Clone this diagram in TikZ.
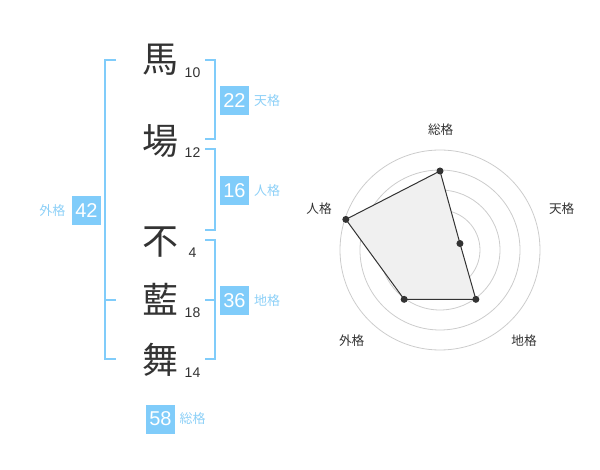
\documentclass[tikz,border=0pt]{standalone}
\usepackage{fontspec}
\setmainfont{Liberation Sans}
\newfontfamily\cjk{Noto Sans CJK JP}
\usetikzlibrary{positioning}
\definecolor{kakublue}{HTML}{80CCFA}
\definecolor{labelblue}{HTML}{8DD0F7}
\definecolor{ink}{HTML}{333333}
\begin{document}
\begin{tikzpicture}[
        x=0.75pt, y=-0.75pt, % coordinate in pixel
        kanji/.style={text=ink, font=\cjk\fontsize{27}{27}\selectfont},
        strokes/.style={text=ink, inner sep=0pt, font=\fontsize{10.5}{10.5}\selectfont},
        kakubox/.style={fill=kakublue, text=white, minimum size=21.75pt, inner sep=0pt, font=\fontsize{15}{15}\selectfont},
        kakulabel/.style={text=labelblue, inner sep=0pt, font=\cjk\fontsize{9.75}{9.75}\selectfont},
        bracket/.style={draw=kakublue, line width=1.5pt},
        ring/.style={draw=black!20, line width=0.6pt},
        axislabel/.style={text=ink, font=\cjk\fontsize{9.5}{9.5}\selectfont},
        vertex/.style={circle, fill=ink, inner sep=0pt, minimum size=5.25pt}
    ]
    \useasboundingbox (0,0) rectangle (600,470);

    % nome
    \node[kanji] (ba)   at (160,60)  {馬};
    \node[kanji] (jo)   at (160,141) {場};
    \node[kanji] (fu)   at (160,242) {不};
    \node[kanji] (ai)   at (160,299) {藍};
    \node[kanji] (mai)  at (160,360) {舞};
    \node[strokes] (baN)  at (192.5,73)  {10};
    \node[strokes] (joN)  at (192.5,153) {12};
    \node[strokes] (fuN)  at (192.5,253) {4};
    \node[strokes] (aiN)  at (192.5,313) {18};
    \node[strokes] (maiN) at (192.5,373) {14};

    % parentesi
    \draw[bracket] (116,60) -- (105,60) -- (105,359) -- (116,359);
    \draw[bracket] (105,300) -- (116,300);
    \draw[bracket] (205,60) -- (215,60) -- (215,139) -- (205,139);
    \draw[bracket] (205,149) -- (215,149) -- (215,230) -- (205,230);
    \draw[bracket] (205,240) -- (215,240) -- (215,359) -- (205,359);
    \draw[bracket] (205,300) -- (215,300);

    % punteggi
    \node[kakubox] (ten)  at (234.5,100.5) {22};
    \node[kakubox] (jin)  at (234.5,190.5) {16};
    \node[kakubox] (chi)  at (234.5,300.5) {36};
    \node[kakubox] (gai)  at (86.5,211)    {42};
    \node[kakubox] (sou)  at (160.5,419)   {58};
    \node[kakulabel, right=3.5pt of ten] (tenL) {天格};
    \node[kakulabel, right=3.5pt of jin] (jinL) {人格};
    \node[kakulabel, right=3.5pt of chi] (chiL) {地格};
    \node[kakulabel, left=4.5pt of gai]  (gaiL) {外格};
    \node[kakulabel, right=3pt of sou]   (souL) {総格};

    % radar
    \begin{scope}[shift={(440,250)}, y=0.75pt]
        \foreach \r in {20,40,60,80,100}
            \draw[ring] (0,0) circle (\r);
        \fill[black!20] (0,0) circle (2.6pt);
        \coordinate (pSou) at (90:79);
        \coordinate (pTen) at (18:21);
        \coordinate (pChi) at (-54:61);
        \coordinate (pGai) at (234:61);
        \coordinate (pJin) at (162:99);
        \draw[ink, fill=black!6, line width=0.75pt] (pSou) -- (pTen) -- (pChi) -- (pGai) -- (pJin) -- cycle;
        \foreach \p in {pSou,pTen,pChi,pGai,pJin}
            \node[vertex] (\p dot) at (\p) {};
        \node[axislabel] (lSou) at (0.7,120)   {総格};
        \node[axislabel] (lTen) at (121.7,41)  {天格};
        \node[axislabel] (lChi) at (84,-91)    {地格};
        \node[axislabel] (lGai) at (-88.3,-91) {外格};
        \node[axislabel] (lJin) at (-121,41)   {人格};
    \end{scope}
\end{tikzpicture}
\end{document}
